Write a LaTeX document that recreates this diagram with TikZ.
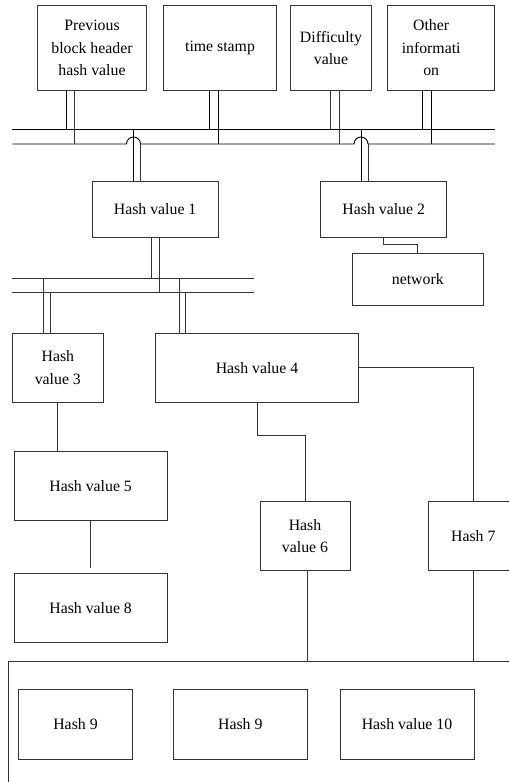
\documentclass[tikz,border=0pt]{standalone}
\usepackage{fontspec}
\setmainfont{Liberation Serif}
\begin{document}
\begin{tikzpicture}[x=1pt,y=-1pt,
  line width=0.9pt,
  box/.style={draw=black!80, rectangle, inner sep=0pt, align=center,
    font=\fontsize{15.8}{22.5}\selectfont},
  wire/.style={draw=black!80},
  bus/.style={draw=black}]
\useasboundingbox (0,0) rectangle (509,782);
\clip (0,0) rectangle (509,782);

% block header fields
\node[box, minimum width=109.4pt, minimum height=85.7pt] (prev) at (92,47.85)
  {Previous\\block header\\hash value};
\node[box, minimum width=112.6pt, minimum height=85.7pt] (time) at (220,47.85) {time stamp};
\node[box, minimum width=80.6pt, minimum height=85.7pt] (diff) at (331,47.85) {Difficulty\\value};
\node[box, minimum width=106.7pt, minimum height=85.7pt] (other) at (440.65,47.85) {};
\node[box, draw=none] (otherTxt) at ([xshift=-9.5pt]other.center) {Other\\informati\\on};

% hash tree
\node[box, minimum width=126.3pt, minimum height=56pt] (hv1) at (155.15,209.3) {Hash value 1};
\node[box, minimum width=126pt, minimum height=56pt] (hv2) at (383.7,209.3) {Hash value 2};
\node[box, minimum width=131pt, minimum height=52.4pt] (net) at (417.8,279.5) {network};
\node[box, minimum width=90.3pt, minimum height=69.3pt] (hv3) at (57.85,367.65) {Hash\\value 3};
\node[box, minimum width=203.4pt, minimum height=69.3pt] (hv4) at (257,367.65) {Hash value 4};
\node[box, minimum width=152.7pt, minimum height=69.7pt] (hv5) at (90.65,485.85) {Hash value 5};
\node[box, minimum width=90pt, minimum height=69.4pt] (hv6) at (305,536) {Hash\\value 6};
\node[box, minimum width=89.3pt, minimum height=69.4pt] (hv7) at (473.3,536) {Hash 7};
\node[box, minimum width=152.7pt, minimum height=69.7pt] (hv8) at (90.65,607.85) {Hash value 8};
\node[box, minimum width=114.4pt, minimum height=69.6pt] (h9a) at (75.5,724.5) {Hash 9};
\node[box, minimum width=134pt, minimum height=69.6pt] (h9b) at (240.3,724.5) {Hash 9};
\node[box, minimum width=134pt, minimum height=69.6pt] (hv10) at (407,724.5) {Hash value 10};

% upper bus: two rails, the lower one hopping over the feeds of hash 1 and 2
\coordinate (tuL) at (12.3,129.3);
\coordinate (tuR) at (495,129.3);
\coordinate (tlL) at (12.3,144);
\coordinate (tlR) at (495,144);
\draw[bus] (tuL) -- (tuR);
\draw[bus] (tlL) -- (126.5,144) arc[start angle=180, end angle=360, radius=7]
  -- (354,144) arc[start angle=180, end angle=360, radius=7] -- (tlR);

% fields onto the bus
\draw[bus] (prev.south -| 66,0) -- (66,0 |- tuL);
\draw[wire] (prev.south -| 74,0) -- (74,0 |- tlL);
\draw[bus] (time.south -| 209.3,0) -- (209.3,0 |- tuL);
\draw[bus] (time.south -| 218.3,0) -- (218.3,0 |- tlL);
\draw[wire] (diff.south -| 330,0) -- (330,0 |- tuL);
\draw[wire] (diff.south -| 339,0) -- (339,0 |- tlL);
\draw[bus] (other.south -| 422.7,0) -- (422.7,0 |- tuL);
\draw[bus] (other.south -| 431.3,0) -- (431.3,0 |- tlL);

% bus down to hash 1 and hash 2
\draw[bus] (133.5,0 |- tuL) -- (hv1.north -| 133.5,0);
\draw[wire] (140.5,0 |- tlL) -- (hv1.north -| 140.5,0);
\draw[bus] (361,0 |- tuL) -- (hv2.north -| 361,0);
\draw[wire] (368,0 |- tlL) -- (hv2.north -| 368,0);

% hash 2 to network
\draw[wire] (hv2.south -| 383.3,0) -- (383.3,244.7) -| (net.north);

% lower bus
\coordinate (muL) at (12.3,278);
\coordinate (muR) at (254,278);
\coordinate (mlL) at (12.3,292.7);
\coordinate (mlR) at (254,292.7);
\draw[wire] (muL) -- (muR);
\draw[wire] (mlL) -- (mlR);
\draw[wire] (hv1.south -| 151,0) -- (151,0 |- muL);
\draw[wire] (hv1.south -| 159.3,0) -- (159.3,0 |- mlL);
\draw[wire] (43.3,0 |- muL) -- (hv3.north -| 43.3,0);
\draw[wire] (50.7,0 |- mlL) -- (hv3.north -| 50.7,0);
\draw[wire] (179,0 |- muL) -- (hv4.north -| 179,0);
\draw[wire] (185.7,0 |- mlL) -- (hv4.north -| 185.7,0);

% tree links
\draw[wire] (hv3.south) -- (hv3.south |- hv5.north);
\draw[wire, shorten >=4.5pt] (hv5.south) -- (hv5.south |- hv8.north);
\draw[wire] (hv4.east) -| (hv7.north);
\coordinate (bend4) at (257,435.7);
\draw[wire] (hv4.south) -- (bend4) -| (hv6.north);

% bottom frame
\coordinate (fL) at (8.7,661);
\coordinate (fR) at (515,661);
\coordinate (fB) at (8.7,790);
\draw[wire] (fR) -- (fL) -- (fB);
\draw[wire] (hv6.south -| 307.3,0) -- (307.3,0 |- fL);
\draw[wire] (hv7.south -| 473.7,0) -- (473.7,0 |- fL);
\end{tikzpicture}
\end{document}
